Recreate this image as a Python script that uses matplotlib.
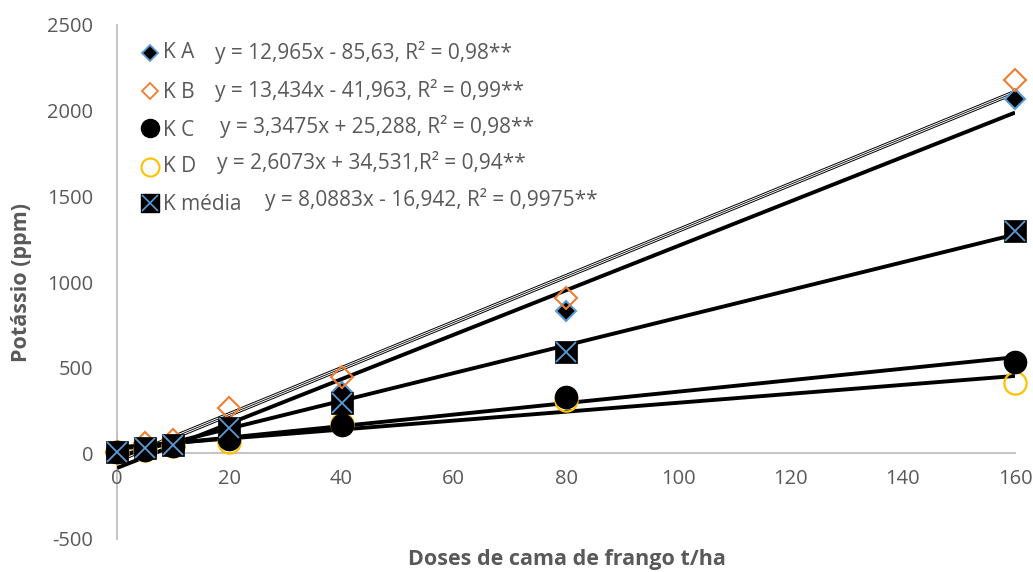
#!/usr/bin/env python3
"""Potássio vs doses de cama de frango, with linear trendlines."""

import matplotlib

matplotlib.use("Agg")
import matplotlib.pyplot as plt
import numpy as np
from matplotlib.lines import Line2D

plt.rcParams["axes.unicode_minus"] = False

DOSES = [0, 5, 10, 20, 40, 80, 160]
K_A = [5, 25, 45, 140, 356, 828, 2068]
K_B = [10, 58, 76, 263, 444, 905, 2179]
K_C = [8, 20, 45, 85, 165, 327, 535]
K_D = [5, 20, 40, 65, 170, 310, 410]
K_MEDIA = [5, 29, 47, 146, 292, 590, 1295]

NAMES = ["K A", "K B", "K C", "K D", "K média"]
SLOPES = [12.965, 13.434, 3.3475, 2.6073, 8.0883]
INTERCEPTS = [-85.63, -41.963, 25.288, 34.531, -16.942]
EQUATIONS = [
    "y = 12,965x - 85,63, R² = 0,98**",
    "y = 13,434x - 41,963, R² = 0,99**",
    "y = 3,3475x + 25,288, R² = 0,98**",
    "y = 2,6073x + 34,531,R² = 0,94**",
    "y = 8,0883x - 16,942, R² = 0,9975**",
]

BLUE = "#5b9bd5"
ORANGE = "#ed7d31"
YELLOW = "#ffc000"
GREY_TXT = "#595959"
GREY_AX = "#bfbfbf"

W, H = 1033, 572
fig = plt.figure(figsize=(W / 100, H / 100), dpi=100)
ax = fig.add_axes([117 / W, 1 - 539 / H, (1015 - 117) / W, (539 - 25) / H])

# trendlines
xs = np.array([DOSES[0], DOSES[-1]], dtype=float)
for i, (m, b) in enumerate(zip(SLOPES, INTERCEPTS)):
    ys = m * xs + b
    if i == 1:
        ax.plot(xs, ys, color="black", lw=3.4, zorder=2, solid_capstyle="butt")
        ax.plot(xs, ys, color="white", lw=2.0, zorder=2, solid_capstyle="butt")
        ax.plot(xs, ys, color="black", lw=0.6, zorder=2, solid_capstyle="butt")
    else:
        ax.plot(xs, ys, color="black", lw=2.8, zorder=2, solid_capstyle="butt")

# markers
ax.plot(DOSES, K_A, ls="none", marker="D", ms=10.5, mfc="black", mec=BLUE, mew=1.5,
        zorder=3, clip_on=False)
ax.plot(DOSES, K_B, ls="none", marker="D", ms=11, mfc="none", mec=ORANGE, mew=1.5,
        zorder=3, clip_on=False)
ax.plot(DOSES, K_D, ls="none", marker="o", ms=16, mfc="none", mec=YELLOW, mew=1.6,
        zorder=3, clip_on=False)
ax.plot(DOSES, K_C, ls="none", marker="o", ms=16, mfc="black", mec="black", mew=1,
        zorder=3, clip_on=False)
ax.plot(DOSES, K_MEDIA, ls="none", marker="s", ms=15.5, mfc="black", mec="black", mew=0.5,
        zorder=4, clip_on=False)
ax.plot(DOSES, K_MEDIA, ls="none", marker="x", ms=14.5, mec=BLUE, mew=1.3,
        zorder=5, clip_on=False)

ax.set_xlim(0, 160)
ax.set_ylim(-500, 2500)
ax.set_xticks(range(0, 161, 20))
ax.set_yticks(range(-500, 2501, 500))
for side in ("top", "right"):
    ax.spines[side].set_visible(False)
ax.spines["bottom"].set_position(("data", 0))
for side in ("left", "bottom"):
    ax.spines[side].set_color(GREY_AX)
    ax.spines[side].set_linewidth(1.3)
    ax.spines[side].set_zorder(1)
ax.tick_params(axis="both", length=0, labelsize=14.5, labelcolor=GREY_TXT)
ax.tick_params(axis="y", pad=17)
ax.tick_params(axis="x", pad=11)
for lbl in ax.get_xticklabels() + ax.get_yticklabels():
    lbl.set_family("Open Sans")

fig.text(567 / W, 1 - 559 / H, "Doses de cama de frango t/ha", ha="center", va="center",
         fontsize=15.5, fontweight="bold", color=GREY_TXT, family="Open Sans")
fig.text(22 / W, 1 - 283 / H, "Potássio (ppm)", ha="center", va="center", rotation=90,
         fontsize=15.5, fontweight="bold", color=GREY_TXT, family="Open Sans")

# legend, drawn by hand in figure pixels
leg_marker_y = [53, 91, 128, 167, 203]
leg_styles = [
    [dict(marker="D", ms=8.5, mfc="black", mec=BLUE, mew=1.3)],
    [dict(marker="D", ms=8.5, mfc="none", mec=ORANGE, mew=1.3)],
    [dict(marker="o", ms=13, mfc="black", mec="black")],
    [dict(marker="o", ms=13, mfc="none", mec=YELLOW, mew=1.5)],
    [dict(marker="s", ms=12.5, mfc="black", mec="black"),
     dict(marker="x", ms=12, mec=BLUE, mew=1.2)],
]
for my, styles in zip(leg_marker_y, leg_styles):
    for st in styles:
        fig.add_artist(Line2D([150 / W], [1 - my / H], ls="none",
                              transform=fig.transFigure, **st))

name_y = [53, 92, 130, 167, 204]
for name, ny in zip(NAMES, name_y):
    fig.text(163 / W, 1 - ny / H, name, ha="left", va="center", fontsize=15,
             color=GREY_TXT, family="Open Sans")

eq_x = [215, 215, 220, 217, 265]
eq_y = [53, 91, 126, 162, 200]
for eq, ex, ey in zip(EQUATIONS, eq_x, eq_y):
    fig.text(ex / W, 1 - ey / H, eq, ha="left", va="center", fontsize=15,
             color=GREY_TXT, family="Open Sans")

fig.savefig("out.png", dpi=100)
